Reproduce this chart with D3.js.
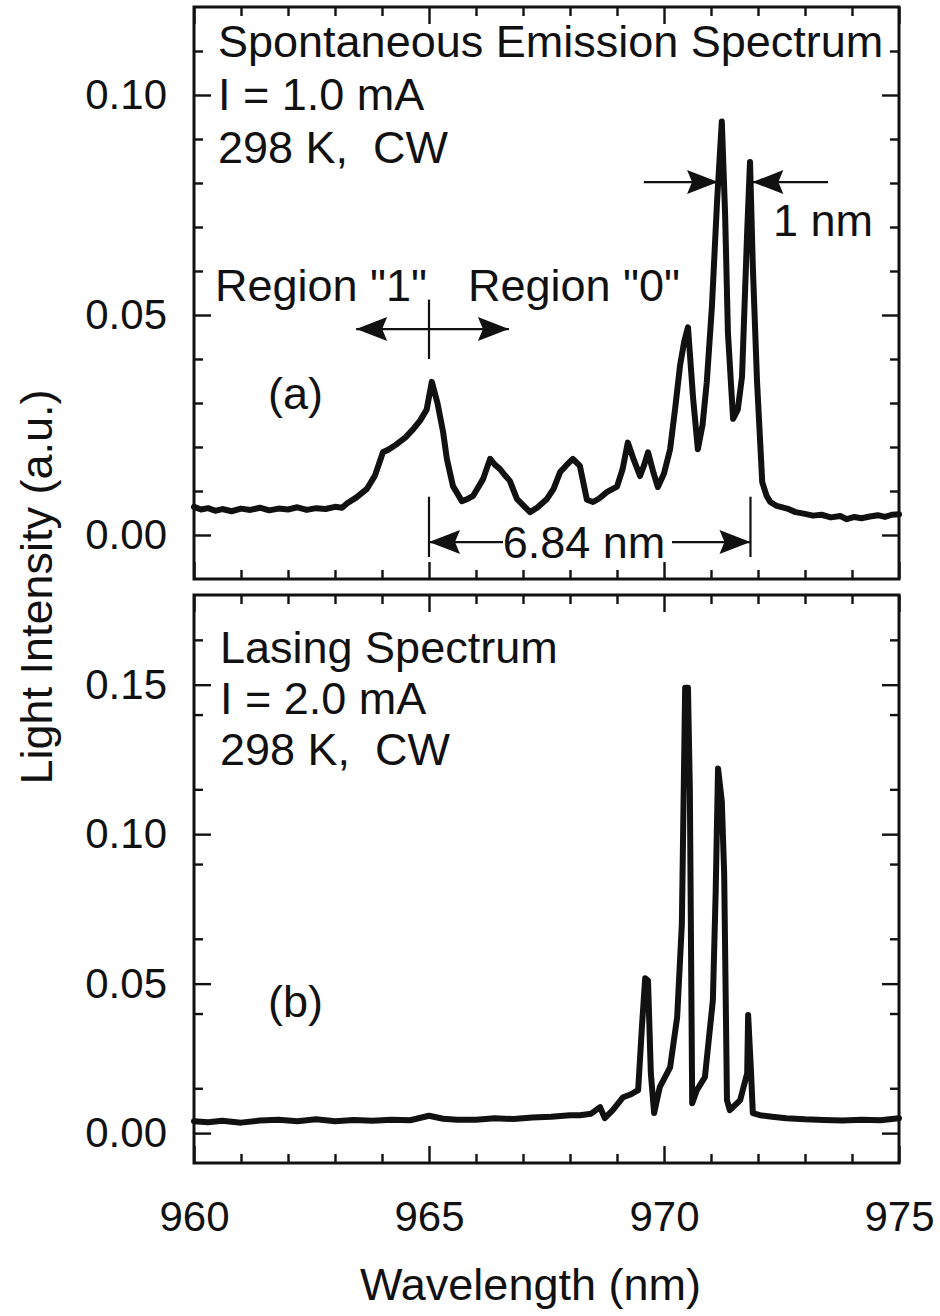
<!doctype html>
<html lang="en">
<head>
  <meta charset="utf-8">
  <title>Spontaneous emission and lasing spectra</title>
  <script src="https://cdn.jsdelivr.net/npm/d3@7"></script>
  <style>
    html, body { margin: 0; padding: 0; background: #fff; }
    svg text { font-family: "Liberation Sans", Arial, Helvetica, sans-serif; fill: #111; }
  </style>
</head>
<body>
  <svg id="chart" width="940" height="1316"></svg>
  <script>
    // wavelength (nm) and intensity (a.u.)
    const spontWl = [960.0, 960.15, 960.3, 960.45, 960.6, 960.8, 961.0, 961.2, 961.4, 961.6,
      961.8, 962.0, 962.2, 962.4, 962.6, 962.8, 963.0, 963.15, 963.26, 963.45,
      963.68, 963.85, 964.02, 964.15, 964.32, 964.5, 964.66, 964.81, 964.95, 965.06,
      965.18, 965.3, 965.38, 965.51, 965.7, 965.82, 965.94, 966.15, 966.3, 966.4,
      966.51, 966.62, 966.72, 966.87, 967.0, 967.15, 967.3, 967.51, 967.65, 967.79,
      967.92, 968.06, 968.21, 968.36, 968.49, 968.62, 968.79, 969.0, 969.12, 969.23,
      969.36, 969.49, 969.58, 969.66, 969.78, 969.87, 970.0, 970.13, 970.24, 970.34,
      970.43, 970.51, 970.62, 970.72, 970.82, 970.91, 971.02, 971.13, 971.23, 971.3,
      971.36, 971.47, 971.57, 971.66, 971.77, 971.83, 971.89, 971.98, 972.09, 972.18,
      972.26, 972.4, 972.62, 972.8, 973.0, 973.17, 973.35, 973.55, 973.75, 973.89,
      974.05, 974.2, 974.38, 974.55, 974.7, 974.85, 975.0];
    const spontI = [0.0064, 0.0058, 0.0061, 0.0055, 0.0059, 0.0054, 0.0060, 0.0057, 0.0062, 0.0056,
      0.0060, 0.0058, 0.0063, 0.0057, 0.0061, 0.0059, 0.0064, 0.0062, 0.0072, 0.0085,
      0.0105, 0.0135, 0.0188, 0.0195, 0.0207, 0.0222, 0.0240, 0.0260, 0.0285, 0.0348,
      0.0300, 0.0234, 0.0173, 0.0111, 0.0077, 0.0082, 0.0089, 0.0127, 0.0173, 0.0160,
      0.0150, 0.0135, 0.0123, 0.0082, 0.0068, 0.0052, 0.0062, 0.0082, 0.0105, 0.0143,
      0.0158, 0.0173, 0.0157, 0.0080, 0.0075, 0.0083, 0.0098, 0.0110, 0.0150, 0.0210,
      0.0170, 0.0134, 0.0160, 0.0188, 0.0140, 0.0109, 0.0140, 0.0195, 0.0290, 0.0384,
      0.0440, 0.0472, 0.0310, 0.0195, 0.0250, 0.0347, 0.0520, 0.0760, 0.0940, 0.0730,
      0.0460, 0.0264, 0.0285, 0.0360, 0.0690, 0.0848, 0.0610, 0.0348, 0.0120, 0.0090,
      0.0075, 0.0066, 0.0060, 0.0052, 0.0048, 0.0044, 0.0046, 0.0040, 0.0043, 0.0036,
      0.0041, 0.0038, 0.0042, 0.0045, 0.0041, 0.0046, 0.0047];

    const lasingWl = [960.0, 960.3, 960.6, 961.0, 961.4, 961.8, 962.2, 962.6, 963.0, 963.4,
      963.8, 964.2, 964.6, 965.0, 965.3, 965.6, 966.0, 966.4, 966.8, 967.2,
      967.6, 968.0, 968.21, 968.45, 968.64, 968.74, 968.91, 969.13, 969.3, 969.45,
      969.53, 969.6, 969.66, 969.72, 969.79, 969.91, 970.13, 970.28, 970.38, 970.45,
      970.51, 970.55, 970.6, 970.7, 970.87, 971.04, 971.1, 971.15, 971.23, 971.28,
      971.34, 971.4, 971.62, 971.77, 971.79, 971.85, 971.89, 972.04, 972.3, 972.6,
      973.0, 973.4, 973.8, 974.2, 974.6, 975.0];
    const lasingI = [0.0040, 0.0036, 0.0041, 0.0035, 0.0042, 0.0045, 0.0040, 0.0046, 0.0040, 0.0044,
      0.0041, 0.0045, 0.0043, 0.0058, 0.0048, 0.0045, 0.0045, 0.0050, 0.0047, 0.0052,
      0.0055, 0.0060, 0.0060, 0.0065, 0.0087, 0.0050, 0.0077, 0.0120, 0.0130, 0.0144,
      0.0355, 0.0518, 0.0510, 0.0200, 0.0067, 0.0154, 0.0220, 0.0388, 0.0700, 0.1490,
      0.1490, 0.1150, 0.0100, 0.0144, 0.0187, 0.0445, 0.0810, 0.1220, 0.1110, 0.0870,
      0.0110, 0.0077, 0.0110, 0.0200, 0.0395, 0.0210, 0.0067, 0.0060, 0.0055, 0.0050,
      0.0046, 0.0044, 0.0042, 0.0045, 0.0043, 0.0050];

    const xTicks = [960, 965, 970, 975];
    const topYTicks = [0.00, 0.05, 0.10];
    const botYTicks = [0.00, 0.05, 0.10, 0.15];

    const svg = d3.select("#chart");
    svg.append("rect").attr("width", 940).attr("height", 1316).attr("fill", "#fff");

    const left = 194, right = 899;
    const x = d3.scaleLinear().domain([960, 975]).range([left, right]);
    const FS = 42;   // tick labels
    const FT = 45;   // annotations and titles

    // filled arrow head with a notched back, tip at (tx, ty), pointing in dir (+1 right / -1 left)
    function arrowHead(g, tx, ty, dir) {
      const L = 31, W = 12, N = 5;
      const p = d3.path();
      p.moveTo(tx, ty);
      p.lineTo(tx - dir * L, ty - W);
      p.lineTo(tx - dir * (L - N), ty);
      p.lineTo(tx - dir * L, ty + W);
      p.closePath();
      g.append("path").attr("d", p.toString()).attr("fill", "#111");
    }

    function panel(cfg) {
      const y = d3.scaleLinear().domain(cfg.yDomain).range([cfg.bottom, cfg.top]);
      const g = svg.append("g");

      const minorY = d3.range(cfg.yDomain[0], cfg.yDomain[1] + 1e-9, cfg.yMinor)
        .filter(v => v > cfg.yDomain[0] + 1e-9 && v < cfg.yDomain[1] - 1e-9)
        .filter(v => !cfg.yMajor.some(m => Math.abs(m - v) < 1e-9));
      const minorX = d3.range(961, 975, 1).filter(v => v % 5 !== 0);

      const addAxis = (axis, tr) => {
        const a = g.append("g").attr("transform", tr).call(axis);
        a.select(".domain").remove();
        a.selectAll(".tick line").attr("stroke", "#111").attr("stroke-width", 2.4);
        a.selectAll("text").attr("font-size", FS).attr("fill", "#111")
          .attr("font-family", "'Liberation Sans', Arial, sans-serif");
        return a;
      };

      // y axes (left with labels, right mirrored)
      addAxis(d3.axisLeft(y).tickValues(cfg.yMajor).tickSize(-17).tickPadding(27)
        .tickFormat(d3.format(".2f")), `translate(${left},0)`);
      addAxis(d3.axisLeft(y).tickValues(minorY).tickSize(-9).tickFormat(""), `translate(${left},0)`);
      addAxis(d3.axisRight(y).tickValues(cfg.yMajor).tickSize(-17).tickFormat(""), `translate(${right},0)`);
      addAxis(d3.axisRight(y).tickValues(minorY).tickSize(-9).tickFormat(""), `translate(${right},0)`);

      // x axes (bottom, top mirrored)
      addAxis(d3.axisBottom(x).tickValues(xTicks).tickSize(-17).tickPadding(38)
        .tickFormat(cfg.xLabels ? d3.format("d") : ""), `translate(0,${cfg.bottom})`);
      addAxis(d3.axisBottom(x).tickValues(minorX).tickSize(-9).tickFormat(""), `translate(0,${cfg.bottom})`);
      addAxis(d3.axisTop(x).tickValues(xTicks).tickSize(-17).tickFormat(""), `translate(0,${cfg.top})`);
      addAxis(d3.axisTop(x).tickValues(minorX).tickSize(-9).tickFormat(""), `translate(0,${cfg.top})`);

      // spectrum
      const pts = cfg.wl.map((w, i) => [w, cfg.val[i]]);
      g.append("path").datum(pts)
        .attr("fill", "none").attr("stroke", "#111").attr("stroke-width", 6)
        .attr("stroke-linejoin", "round").attr("stroke-linecap", "round")
        .attr("d", d3.line().x(d => x(d[0])).y(d => y(d[1])));

      // frame
      g.append("rect").attr("x", left).attr("y", cfg.top)
        .attr("width", right - left).attr("height", cfg.bottom - cfg.top)
        .attr("fill", "none").attr("stroke", "#111").attr("stroke-width", 3);

      return { g, y };
    }

    // (a) spontaneous emission
    const a = panel({ top: 7, bottom: 579, yDomain: [-0.01, 0.12], yMajor: topYTicks, yMinor: 0.01,
      wl: spontWl, val: spontI, xLabels: false });
    // (b) lasing
    const b = panel({ top: 595, bottom: 1163, yDomain: [-0.01, 0.18], yMajor: botYTicks, yMinor: 0.025,
      wl: lasingWl, val: lasingI, xLabels: true });

    const txt = (g, s, tx, ty, anchor) => g.append("text").attr("x", tx).attr("y", ty)
      .attr("font-size", FT).attr("text-anchor", anchor || "start")
      .attr("xml:space", "preserve").text(s);

    // panel (a) labels
    txt(a.g, "Spontaneous Emission Spectrum", 218, 57);
    txt(a.g, "I = 1.0 mA", 218, 110);
    txt(a.g, "298 K,  CW", 218, 163);
    txt(a.g, "1 nm", 773, 236);
    txt(a.g, "Region \"1\"", 215, 301);
    txt(a.g, "Region \"0\"", 468, 301);
    txt(a.g, "(a)", 268, 409);

    // region divider arrows
    const ya = a.y;
    const yReg = ya(0.0468);
    a.g.append("line").attr("x1", x(963.45)).attr("x2", x(966.7)).attr("y1", yReg).attr("y2", yReg)
      .attr("stroke", "#111").attr("stroke-width", 2.2);
    a.g.append("line").attr("x1", x(965.0)).attr("x2", x(965.0)).attr("y1", ya(0.0535)).attr("y2", ya(0.040))
      .attr("stroke", "#111").attr("stroke-width", 2.2);
    arrowHead(a.g, x(963.45), yReg, -1);
    arrowHead(a.g, x(966.7), yReg, 1);

    // 1 nm mode spacing arrows
    const y1 = ya(0.0802);
    a.g.append("line").attr("x1", x(969.57)).attr("x2", x(971.15)).attr("y1", y1).attr("y2", y1)
      .attr("stroke", "#111").attr("stroke-width", 2.2);
    a.g.append("line").attr("x1", x(973.49)).attr("x2", x(971.88)).attr("y1", y1).attr("y2", y1)
      .attr("stroke", "#111").attr("stroke-width", 2.2);
    arrowHead(a.g, x(971.15), y1, 1);
    arrowHead(a.g, x(971.88), y1, -1);

    // 6.84 nm spacing
    const yDim = ya(-0.0016);
    [965.0, 971.84].forEach(w => a.g.append("line").attr("x1", x(w)).attr("x2", x(w))
      .attr("y1", ya(0.0087)).attr("y2", ya(-0.005)).attr("stroke", "#111").attr("stroke-width", 2.2));
    a.g.append("line").attr("x1", x(965.0)).attr("x2", 503).attr("y1", yDim).attr("y2", yDim)
      .attr("stroke", "#111").attr("stroke-width", 2.2);
    a.g.append("line").attr("x1", 672).attr("x2", x(971.84)).attr("y1", yDim).attr("y2", yDim)
      .attr("stroke", "#111").attr("stroke-width", 2.2);
    arrowHead(a.g, x(965.0), yDim, -1);
    arrowHead(a.g, x(971.84), yDim, 1);
    txt(a.g, "6.84 nm", 584, 558, "middle");

    // panel (b) labels
    txt(b.g, "Lasing Spectrum", 220, 663);
    txt(b.g, "I = 2.0 mA", 220, 714);
    txt(b.g, "298 K,  CW", 220, 765);
    txt(b.g, "(b)", 268, 1017);

    // axis titles
    txt(svg, "Wavelength (nm)", (left + right) / 2 - 16, 1300, "middle");
    svg.append("text").attr("transform", "translate(52,587) rotate(-90)")
      .attr("text-anchor", "middle").attr("font-size", FT).text("Light Intensity (a.u.)");
  </script>
</body>
</html>
